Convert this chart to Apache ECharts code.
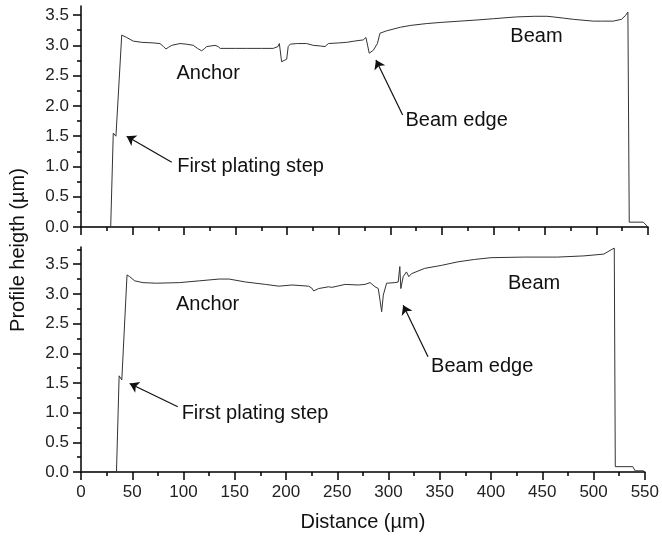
<!DOCTYPE html>
<html><head><meta charset="utf-8">
<script src="https://cdn.jsdelivr.net/npm/echarts@6/dist/echarts.min.js"></script>
<style>html,body{margin:0;padding:0;background:#fff}#c{width:662px;height:539px}</style>
</head><body><div id="c"></div><script>
// ---- data ----
const xMin = 0, xMax = 550, xStep = 50;
const yMajorTicks = [0, 0.5, 1, 1.5, 2, 2.5, 3, 3.5];
const yMinorTicksTop = [0.25, 0.75, 1.25, 1.75, 2.25, 2.75, 3.25];
const yMinorTicksBottom = [0.25, 0.75, 1.25, 1.75, 2.25, 2.75, 3.25, 3.75];
const topYMax = 3.65;
const bottomYMax = 3.79;

const topX = [0, 28.8, 31.3, 33.9, 35.8, 39.5, 41.0, 44.3, 50.7, 58.9, 70, 76.6, 80, 82.4, 85, 88, 96, 102, 109, 113, 117, 120, 122, 130, 133, 135, 150, 160.7, 175, 186.5, 191, 192.4, 193.5, 194.6, 197, 199.5, 201, 203, 210, 218.9, 225.3, 232, 236.7, 240, 250, 257.7, 265, 273.8, 276.4, 277.5, 279.6, 283.6, 287.5, 290, 296.5, 310, 320, 335.3, 350, 367.6, 385, 400, 422.6, 440, 451.8, 458, 468, 477.5, 497, 505, 516.2, 524.3, 528, 530.5, 531.8, 545.4, 550];
const topY = [0, 0, 1.55, 1.50, 1.52, 3.17, 3.18, 3.13, 3.07, 3.05, 3.04, 3.03, 2.98, 2.94, 2.97, 3.00, 3.03, 3.02, 3.00, 2.95, 2.91, 2.95, 2.98, 3.00, 2.98, 2.95, 2.95, 2.95, 2.95, 2.95, 2.98, 3.03, 3.04, 2.73, 2.75, 2.77, 2.98, 3.02, 3.03, 3.03, 3.00, 2.99, 2.98, 3.03, 3.04, 3.05, 3.07, 3.09, 3.13, 3.10, 2.87, 2.92, 3.03, 3.20, 3.24, 3.30, 3.33, 3.36, 3.38, 3.40, 3.42, 3.44, 3.47, 3.48, 3.48, 3.47, 3.45, 3.43, 3.40, 3.40, 3.40, 3.43, 3.49, 3.55, 0.08, 0.08, 0.0];

const bottomX = [0, 34.6, 37.2, 39.8, 41.7, 44.9, 47.5, 52.4, 60.4, 73.4, 96, 115.4, 134.8, 144.5, 160.7, 180, 193, 205.9, 222, 225, 227, 231.8, 241.5, 244.7, 257.7, 270.6, 277, 282, 286.8, 290, 293.3, 294.9, 298.1, 306.2, 309.4, 311, 312, 314.3, 317.5, 319.8, 322.3, 335.3, 351.5, 367.6, 383.8, 400, 432.3, 464.6, 490.5, 509.9, 517.9, 520.2, 521.2, 538.3, 540.5, 548.7, 550];
const bottomY = [0, 0, 1.62, 1.55, 1.58, 3.32, 3.29, 3.22, 3.19, 3.18, 3.19, 3.22, 3.25, 3.25, 3.20, 3.16, 3.13, 3.15, 3.13, 3.10, 3.05, 3.09, 3.12, 3.11, 3.16, 3.15, 3.16, 3.19, 3.12, 3.09, 2.70, 2.98, 3.18, 3.19, 3.20, 3.46, 3.09, 3.29, 3.37, 3.29, 3.34, 3.43, 3.48, 3.54, 3.58, 3.61, 3.62, 3.62, 3.64, 3.67, 3.75, 3.77, 0.09, 0.09, 0.02, 0.02, 0];

const topLabels = ['Anchor', 'Beam', 'Beam edge', 'First plating step'];
const topLabelX = [92.1, 416, 314.3, 92.8];
const topLabelY = [2.54, 3.14, 1.76, 1.0];
const bottomLabels = ['Anchor', 'Beam', 'Beam edge', 'First plating step'];
const bottomLabelX = [92.1, 416, 341, 97.7];
const bottomLabelY = [2.83, 3.18, 1.78, 0.99];

// arrows: [fromX, fromY, toX, toY]
const topArrowFromX = [88, 312];
const topArrowFromY = [1.07, 1.85];
const topArrowToX = [44.3, 286.1];
const topArrowToY = [1.50, 2.76];
const bottomArrowFromX = [94.4, 338.5];
const bottomArrowFromY = [1.10, 1.94];
const bottomArrowToX = [47.5, 314.3];
const bottomArrowToY = [1.49, 2.81];

const xTitle = 'Distance (µm)';
const yTitle = 'Profile heigth (µm)';

// ---- chart ----
const FONT = "'Liberation Sans', Arial, sans-serif";
const AX = { color: '#000', width: 1.5 };

function xAxisDef(gi, showLabels) {
  return {
    type: 'value', gridIndex: gi, min: xMin, max: xMax, interval: xStep,
    axisLine: { show: true, onZero: false, lineStyle: AX },
    axisTick: { show: true, length: 8, lineStyle: AX },
    minorTick: { show: true, splitNumber: 2, length: 4, lineStyle: AX },
    axisLabel: { show: showLabels, margin: 12, fontSize: 17, color: '#222', fontFamily: FONT },
    splitLine: { show: false }, minorSplitLine: { show: false },
    name: showLabels ? xTitle : '', nameLocation: 'middle', nameGap: 40,
    nameTextStyle: { fontSize: 20, color: '#111', fontFamily: FONT }
  };
}
function yMain(gi, max) {
  return {
    type: 'value', gridIndex: gi, min: 0, max: max, position: 'left',
    axisLine: { show: true, onZero: false, lineStyle: AX },
    axisTick: { show: true, length: 8, customValues: yMajorTicks, lineStyle: AX },
    axisLabel: { show: true, customValues: yMajorTicks, formatter: v => Number(v).toFixed(1),
      margin: 12, fontSize: 17, color: '#222', fontFamily: FONT },
    splitLine: { show: false }
  };
}
function yMinor(gi, max, ticks) {
  return {
    type: 'value', gridIndex: gi, min: 0, max: max, position: 'left', offset: 0,
    axisLine: { show: false },
    axisTick: { show: true, length: 4, customValues: ticks, lineStyle: AX },
    axisLabel: { show: false },
    splitLine: { show: false }
  };
}
function pairs(xs, ys) { return xs.map((x, i) => [x, ys[i]]); }
function marks(labels, lx, ly) {
  return labels.map((t, i) => ({ name: t, coord: [lx[i], ly[i]] }));
}
function arrows(fx, fy, tx, ty) {
  return fx.map((x, i) => [{ coord: [x, fy[i]] }, { coord: [tx[i], ty[i]] }]);
}
function series(xi, yi, xs, ys, labels, lx, ly, ar) {
  return {
    type: 'line', xAxisIndex: xi, yAxisIndex: yi, data: pairs(xs, ys),
    showSymbol: false, symbol: 'none', silent: true, animation: false,
    lineStyle: { color: '#333', width: 1 },
    markPoint: {
      symbol: 'circle', symbolSize: 1, silent: true, animation: false,
      itemStyle: { color: 'rgba(0,0,0,0)' },
      label: { show: true, position: 'right', distance: 0, formatter: p => p.name,
        fontSize: 20, color: '#111', fontFamily: FONT },
      data: marks(labels, lx, ly)
    },
    markLine: {
      symbol: ['none', 'arrow'], symbolSize: 9, silent: true, animation: false,
      lineStyle: { type: 'solid', color: '#111', width: 1.2 },
      label: { show: false },
      data: ar
    }
  };
}

const chart = echarts.init(document.getElementById('c'), null, { renderer: 'canvas' });
chart.setOption({
  animation: false,
  backgroundColor: '#fff',
  grid: [
    { left: 81, right: 14, top: 6, height: 221 },
    { left: 81, right: 14, top: 247, height: 225 }
  ],
  xAxis: [xAxisDef(0, false), xAxisDef(1, true)],
  yAxis: [yMain(0, topYMax), yMinor(0, topYMax, yMinorTicksTop), yMain(1, bottomYMax), yMinor(1, bottomYMax, yMinorTicksBottom)],
  series: [
    series(0, 0, topX, topY, topLabels, topLabelX, topLabelY, arrows(topArrowFromX, topArrowFromY, topArrowToX, topArrowToY)),
    series(1, 2, bottomX, bottomY, bottomLabels, bottomLabelX, bottomLabelY, arrows(bottomArrowFromX, bottomArrowFromY, bottomArrowToX, bottomArrowToY))
  ],
  graphic: [{
    type: 'text', x: 18, y: 250, rotation: Math.PI / 2,
    style: { text: yTitle, fill: '#111', font: "20px 'Liberation Sans', Arial, sans-serif",
      textAlign: 'center', textVerticalAlign: 'middle', align: 'center', verticalAlign: 'middle' }
  }]
});
</script></body></html>
